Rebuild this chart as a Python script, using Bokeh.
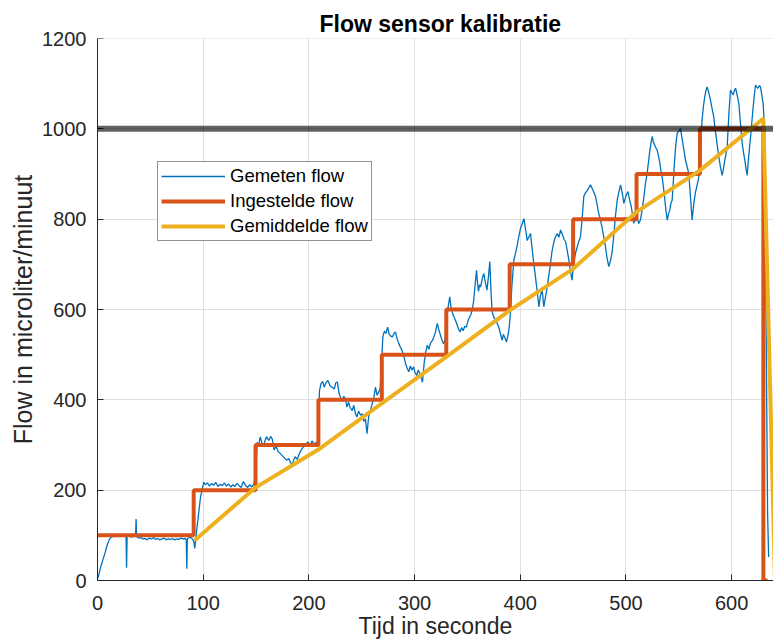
from bokeh.plotting import figure
from bokeh.models import Range1d, Span, Legend, LegendItem, FixedTicker
from bokeh.embed import file_html
from bokeh.resources import INLINE

# ---------------- data ----------------
title_text = "Flow sensor kalibratie"
x_label = "Tijd in seconde"
y_label = "Flow in microliter/minuut"
x_ticks = [0, 100, 200, 300, 400, 500, 600]
y_ticks = [0, 200, 400, 600, 800, 1000, 1200]
ref_level = 1000

# Gemeten flow (measured): time (s)
meas_t = [
    0, 1.5, 3, 5, 7, 9, 11, 13, 15, 18, 21, 24, 26, 27, 27.5, 28, 30, 32, 34, 36, 36.5, 37,
    39, 41, 43, 45, 47, 49, 51, 53, 55, 57, 59, 61, 63, 65, 67, 69, 71, 73, 75, 77, 79, 81,
    83, 84, 84.5, 85, 87, 89, 91, 92, 94.5, 97.5, 100.5,
    102, 104, 106, 108, 110, 112, 114, 116, 118, 120, 122, 124, 126, 128, 130, 132, 134,
    136, 138, 140, 142, 144, 146, 148, 149.5,
    151, 152.5, 154, 155.5, 157, 158.5, 160, 162, 164, 165.5, 167, 169, 171, 173, 175, 177,
    179, 181, 182.5, 184, 185.5, 187, 189, 191, 193, 195, 197, 199, 201, 203, 205, 207, 208.5,
    210, 211.5, 213, 214.5, 216, 218, 220, 222, 224, 225.5, 227, 228.5, 230, 231.5, 233,
    234.5, 236, 237.5, 239, 241, 242.5, 244, 245.5, 247, 249, 250.5, 252, 253.5, 255, 256.5,
    258, 260, 261.5, 263, 264.5, 266, 267.5, 268.5,
    270, 271.5, 273, 274.5, 276, 277.5, 279, 280.5, 282, 283.5, 285, 286.5, 288, 290, 291.5,
    293, 294.5, 296, 297.5, 299, 300.5, 302, 303.5, 305, 306.5, 307.5, 309, 310.5, 312,
    313.5, 315, 317, 318.5, 320, 321.5, 323, 324.5, 326, 327.5, 329,
    331, 332, 333.3, 334.5, 335.5, 337, 338.6, 340, 341.5, 343, 344.5, 346, 347.5, 349,
    350.5, 352, 353.5, 355, 356, 357.5, 358.6, 359.5, 360.5, 361.5, 362.5, 364, 365.5, 367,
    368.5, 370, 371.2, 372.3, 373.4, 375, 376.6, 378, 379.7, 381, 382.9, 384, 385.5, 387,
    388.5, 389.5,
    390.7, 392, 393.9, 395.5, 397.1, 398.5, 400.2, 401.8, 403.4, 405, 406.5, 408, 409.7,
    411.2, 412.8, 414, 415.5, 417, 417.6, 419, 420.7, 422.3, 423.9, 425.5, 427, 428.5, 430,
    431.8, 433.5, 435, 436.5, 438.2, 440, 441.5, 442.9, 444.5, 446, 447.5, 449,
    450.5, 452.2, 453.5, 455, 457, 458.5, 460.1, 461.5, 463, 465, 466.4, 468, 469.5, 471.2,
    472.5, 474, 475.9, 477.5, 479, 480.6, 482, 483.8, 485.5, 487, 488.5, 490, 491.7, 493.3,
    494.9, 496.5, 498, 499.8, 501.8, 503.5, 505, 506.2, 507.4, 508.8,
    510.6, 512, 513.7, 515.3, 517, 518.5, 520, 521.5, 522.5, 523.8, 524.8, 526, 527, 528.3,
    529.5, 530.8, 532, 533.2, 534.2, 535.5, 536.5, 537.8, 539, 540.3, 541.5, 542.5, 543.7,
    545, 546, 547.2, 548.4, 550, 551.6, 553, 554, 555.2, 556.3, 558, 559.5, 561, 562.6,
    564.2, 565.8, 567.3, 568.9,
    570.5, 572, 573.3, 574.5, 575.7, 576.8, 578.4, 580, 581.5, 583.1, 584.3, 585.5, 586.7,
    587.9, 589.4, 591, 592.3, 593.5, 594.7, 595.8, 597.3, 598.9, 600.2, 601.5, 602.6, 603.7,
    605.2, 606.8, 608.4, 610, 611.2, 612.5, 613.6, 614.7, 615.8, 617, 618.2, 619.4, 621,
    622.6, 623.8, 625, 626.2, 627.3, 628.5, 629.8, 631, 632.5, 634, 635]
# Gemeten flow (measured): microliter/minuut
meas_v = [
    3, 15, 30, 45, 60, 77, 90, 96, 98, 97, 99, 98, 100, 98, 28, 97, 98, 96, 98, 97, 136, 97,
    94, 95, 92, 93, 90, 94, 92, 95, 91, 93, 90, 92, 94, 90, 92, 91, 93, 90, 92, 91, 94, 92,
    93, 90, 26, 92, 96, 94, 88, 71, 125, 185, 218,
    212, 216, 209, 215, 211, 217, 208, 213, 210, 216, 209, 214, 207, 212, 208, 215, 210,
    206, 219, 211, 206, 212, 207, 214, 230,
    306, 300, 318, 305, 296, 310, 318, 310, 319, 312, 289, 297, 285, 281, 276, 271,
    266, 270, 262, 255, 266, 274, 268, 281, 290, 297, 301, 307, 300, 309, 302, 306, 298,
    420, 436, 441, 428, 437, 443, 431, 428, 424, 438, 439, 415, 405, 396, 408,
    402, 384, 395, 383, 376, 388, 370, 362, 375, 366, 369, 352, 358, 325, 362,
    375, 392, 405, 428, 410, 417, 425, 470,
    540, 552, 547, 561, 545, 541, 539, 547, 550, 535, 525, 517, 510, 495, 480,
    470, 462, 475, 466, 473, 460, 454, 466, 458, 447, 439, 480, 505, 521,
    512, 525, 532, 541, 552, 569, 555, 543, 532, 524, 535,
    591, 610, 628, 605, 595, 585, 576, 568, 557, 550, 560, 553, 563, 561,
    575, 583, 590, 605, 621, 660, 687, 660, 640, 655, 650, 668, 680, 660,
    643, 675, 706, 640, 595, 583, 576, 570, 561, 548, 532, 545, 537, 528,
    545, 560,
    591, 650, 709, 725, 742, 760, 779, 790, 801, 778, 753, 760, 768,
    735, 702, 680, 650, 620, 606, 630, 643, 606, 628, 650, 675, 700, 728,
    750, 762, 768, 760, 776, 765, 755, 750, 730, 709, 685, 665,
    700, 724, 735, 748, 761, 800, 850, 858, 862, 870, 876, 868, 860, 850,
    835, 815, 798, 780, 760, 739, 715, 695, 710, 728, 765, 805, 842, 860,
    876, 858, 835, 850, 861, 842, 828, 810, 791, 800,
    805, 790, 798, 820, 850, 880, 901, 930, 950, 970, 983, 970, 965, 958,
    953, 940, 925, 905, 894, 870, 850, 820, 798, 812, 820, 835, 842,
    890, 930, 965, 990, 995, 1001, 980, 965, 948, 931, 915, 901, 850, 798,
    835, 860, 875, 893,
    950, 1019, 1050, 1070, 1085, 1093, 1080, 1063, 1045, 1026, 1000, 980, 958,
    938, 915, 897, 912, 930, 945, 960, 1030, 1086, 1080, 1075, 1085, 1090,
    1075, 1056, 1010, 968, 948, 930, 912, 897, 930, 960, 990, 1023, 1065,
    1097, 1092, 1090, 1096, 1093, 1075, 1056, 1004, 600, 150, 52]

# Ingestelde flow (setpoint): start time of each level, and the level
set_times = [0, 91, 149.5, 209, 269, 330, 390, 450, 510, 570, 630]
set_levels = [100, 200, 300, 400, 500, 600, 700, 800, 900, 1000, 0]
set_end = 634

# Gemiddelde flow (average)
avg_t = [92, 149, 209, 269, 330, 390, 450, 510, 570, 630, 641]
avg_v = [89, 205, 290, 392, 495, 598, 690, 816, 908, 1023, 0]

# ---------------- build ----------------
step_x, step_y = [], []
for i, (t0, lvl) in enumerate(zip(set_times, set_levels)):
    t1 = set_times[i + 1] if i + 1 < len(set_times) else set_end
    step_x += [t0, t1]
    step_y += [lvl, lvl]

FONT = "Liberation Sans"
AX = "#262626"
GRID = "#dfdfdf"

p = figure(width=773, height=644, output_backend="svg", toolbar_location=None,
           x_range=Range1d(0, 639.6), y_range=Range1d(0, 1200),
           min_border_left=97, min_border_right=0, min_border_top=38, min_border_bottom=64)
p.outline_line_color = None
p.background_fill_color = "white"
p.border_fill_color = "white"

p.title.text = title_text
p.title.text_font = FONT
p.title.text_font_size = "23px"
p.title.text_font_style = "bold"
p.title.text_color = "black"
p.title.align = "left"
p.title.offset = 222
p.title.standoff = 3
p.title.vertical_align = "bottom"

for ax, ticks, lab in ((p.xaxis, x_ticks, x_label), (p.yaxis, y_ticks, y_label)):
    ax.ticker = FixedTicker(ticks=ticks)
    ax.axis_label = lab
    ax.axis_label_text_font = FONT
    ax.axis_label_text_font_style = "normal"
    ax.axis_label_text_color = AX
    ax.major_label_text_font = FONT
    ax.major_label_text_font_size = "20px"
    ax.major_label_text_color = AX
    ax.axis_line_color = AX
    ax.major_tick_line_color = AX
    ax.major_tick_in = 6
    ax.major_tick_out = 0
    ax.minor_tick_line_color = None

p.xaxis.axis_label_text_font_size = "23px"
p.yaxis.axis_label_text_font_size = "25px"
p.xaxis.major_label_standoff = 15
p.xaxis.axis_label_standoff = 0
p.yaxis.major_label_standoff = 11
p.yaxis.axis_label_standoff = 2

p.xgrid.ticker = FixedTicker(ticks=x_ticks)
p.ygrid.ticker = FixedTicker(ticks=y_ticks)
p.grid.grid_line_color = GRID
p.grid.grid_line_width = 1

p.add_layout(Span(location=y_ticks[-1], dimension="width", line_color=GRID, line_width=1))

r_meas = p.line(meas_t, meas_v, line_color="#0072BD", line_width=1.3)
r_set = p.line(step_x, step_y, line_color="#D95319", line_width=4)
r_avg = p.line(avg_t, avg_v, line_color="#EDB120", line_width=4)

p.add_layout(Span(location=ref_level, dimension="width", line_color="black",
                  line_alpha=0.62, line_width=6))

legend = Legend(items=[LegendItem(label="Gemeten flow", renderers=[r_meas]),
                       LegendItem(label="Ingestelde flow", renderers=[r_set]),
                       LegendItem(label="Gemiddelde flow", renderers=[r_avg])],
                location=(60, 339))
legend.label_text_font = FONT
legend.label_text_font_size = "18.5px"
legend.label_text_color = "black"
legend.border_line_color = AX
legend.border_line_width = 1
legend.background_fill_color = "white"
legend.background_fill_alpha = 1
legend.padding = 3
legend.spacing = 3
legend.margin = 0
legend.label_height = 20
legend.glyph_height = 20
legend.glyph_width = 64
legend.label_standoff = 5
p.add_layout(legend)

open("out.html", "w").write(file_html(p, INLINE))
